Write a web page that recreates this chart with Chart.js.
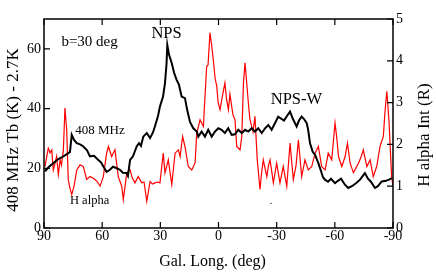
<!DOCTYPE html>
<html>
<head>
<meta charset="utf-8">
<script src="https://cdn.jsdelivr.net/npm/chart.js@4"></script>
<style>
  html, body { margin: 0; padding: 0; background: #fff; }
  #wrap { width: 436px; height: 273px; }
</style>
</head>
<body>
<div id="wrap"><canvas id="chart" width="436" height="273"></canvas></div>
<script>
// 408 MHz brightness temperature (K), left axis
const tLong = [89.5, 87.4, 85.2, 82.8, 80.0, 77.6, 76.6, 75.7, 74.5, 73.1, 71.4, 69.7, 67.8, 66.3, 64.2, 62.0, 60.6, 59.4, 57.7, 56.0,
  54.4, 52.5, 50.8, 49.3, 47.3, 46.7, 45.6, 44.1, 42.2, 41.0, 40.0, 38.8, 37.0, 35.3, 33.8, 32.8, 31.2, 30.2, 28.6, 27.6,
  26.8, 26.4, 25.5, 24.1, 22.9, 21.6, 20.4, 19.0, 17.3, 16.3,
  14.7, 13.0, 11.2, 10.4, 8.7, 7.0, 5.3, 3.5, 1.8, 0.1, -1.6, -3.3, -5.0, -6.8, -8.5, -10.2, -12.0, -13.7, -15.4, -17.1,
  -18.8, -20.5, -22.3, -24.0, -25.7, -27.4, -29.1, -30.8,
  -33.8, -35.3, -36.9, -38.4, -40.3, -41.5,
  -42.9, -44.1, -45.5, -46.2, -47.2, -48.6, -49.8, -51.5, -52.9, -53.9, -54.9, -56.5, -58.0, -60.1, -61.6, -63.2, -65.2, -66.9, -68.8, -70.9,
  -73.0, -75.5, -77.1, -78.6, -80.7, -82.2, -84.2, -86.4, -87.9, -89.5];
const tVal = [19, 20.5, 21.7, 23, 24, 25, 25.5, 31.2, 29.5, 28.4, 28, 27.3, 26, 24, 24.2, 22.8, 22, 20.6, 18.8, 19.5,
  20.5, 20, 19.5, 18.5, 18.4, 17.5, 22.8, 24, 27.3, 28.4, 27.5, 30.6, 31.8, 30.1, 32, 34, 37.5, 40.7, 44, 48.5,
  55, 61.3, 58, 55.2, 52, 49.6, 48, 44, 43.5, 40,
  35.5, 33.4, 32.3, 30.6, 32.3, 30.6, 32.9, 30.6, 32.3, 33.4, 32.9, 31.8, 33.4, 31.2, 31.4, 32.9, 31.8, 32.9, 32.3, 33.4,
  32.3, 33.4, 31.8, 33.4, 34.5, 32.9, 35.1, 37.3,
  36, 37.5, 39, 36.5, 34, 36,
  37.3, 36.5, 35.1, 33, 28.4, 25.5, 24.5, 21.7, 19, 17, 16.2, 15.5, 16.5, 15, 15.8, 16.5, 14.5, 13.4, 14, 15,
  16.2, 18.4, 16.5, 15.5, 13.4, 14, 15.6, 15.8, 16.2, 16.7];

// H alpha intensity (R), right axis
const hLong = [89.5, 87.8, 86.9, 86.0, 85.2, 84.3, 83.5, 82.6, 81.7, 81.0, 80.0, 79.2, 78.3, 77.5, 76.6, 75.7, 74.5, 73.1, 71.4, 69.7,
  68.0, 66.3, 65.0, 63.7, 62.4, 61.1, 59.4, 57.7, 56.8, 55.1, 54.2, 53.4, 51.7, 49.9, 49.1, 47.3, 45.6, 44.5, 43.1, 41.4,
  39.6, 38.4, 37.0, 35.3, 34.0, 32.8, 31.5, 30.2, 28.5, 27.6, 25.9, 24.1, 22.4, 20.7, 19.8, 18.5, 17.3, 15.6, 13.8, 12.1,
  11.2, 9.5, 7.8, 6.9, 6.1, 5.4, 4.4, 3.6, 2.7, 1.8, 0.9, 0.2, -0.8, -1.8, -3.3, -4.1, -5.1, -5.9, -6.8, -7.5,
  -8.5, -9.4, -11.1, -12.0, -12.9, -13.7, -14.5, -15.4, -16.2, -17.1, -17.8, -18.8, -20.0, -21.4, -22.2, -23.1, -24.9, -25.8, -26.6, -28.3,
  -30.0, -31.7, -33.4, -35.2, -36.9, -38.6, -40.0, -41.2, -42.9, -44.6, -46.3, -48.1, -49.8, -51.5, -53.2, -55.0, -56.6, -58.4, -59.3, -60.1,
  -60.9, -61.9, -63.6, -65.3, -66.5, -67.9, -69.6, -71.0, -72.2, -73.5, -74.7, -76.5, -78.2, -79.8, -81.6, -83.3, -85.0, -85.9, -86.8, -87.9,
  -88.7, -89.3, -90.0];
const hVal = [1.47, 1.91, 1.8, 1.87, 1.39, 1.55, 1.71, 1.28, 1.63, 1.5, 1.87, 2.87, 2.35, 1.16, 0.95, 0.8, 1.0, 1.39, 1.51, 1.47,
  1.16, 1.23, 1.2, 1.16, 1.1, 1.0, 1.23, 1.79, 1.95, 1.71, 1.8, 1.87, 1.23, 1.0, 0.68, 1.32, 1.39, 1.2, 1.08, 1.23,
  1.08, 1.1, 0.64, 1.11, 1.05, 1.08, 1.1, 1.08, 1.79, 1.32, 1.63, 1.04, 1.79, 1.87, 1.71, 2.19, 1.95, 1.47, 1.39, 1.55,
  2.27, 2.59, 2.43, 3.2, 3.87, 3.9, 4.67, 4.4, 4.03, 3.6, 3.39, 3.0, 2.83, 3.1, 3.47, 3.1, 2.83, 3.2, 2.91, 2.7,
  2.59, 1.95, 1.87, 2.19, 3.5, 3.95, 3.5, 2.99, 2.6, 2.43, 2.3, 2.67, 1.63, 0.92, 1.3, 1.63, 1.23, 1.5, 1.63, 1.08,
  1.55, 1.08, 1.47, 1.0, 2.03, 1.16, 1.5, 2.11, 1.23, 1.63, 1.39, 1.47, 1.79, 1.95, 1.47, 1.39, 1.79, 1.63, 2.1, 2.51,
  2.2, 1.71, 1.47, 1.71, 2.03, 1.55, 1.32, 1.45, 1.55, 1.7, 1.87, 1.47, 1.63, 1.23, 1.47, 1.95, 2.19, 2.8, 3.27, 2.59,
  1.8, 1.23, 1.0];

const xTicks = [90, 60, 30, 0, -30, -60, -90];
const leftTicks = [0, 20, 40, 60];
const rightTicks = [0, 1, 2, 3, 4, 5];

const serif = '"Liberation Serif", "DejaVu Serif", serif';

const frame = {
  id: 'frame',
  afterDraw(chart) {
    const ctx = chart.ctx;
    const a = chart.chartArea;
    const sx = chart.scales.x, sl = chart.scales.yT, sr = chart.scales.yH;
    ctx.save();
    ctx.strokeStyle = '#000';
    ctx.lineWidth = 1.5;
    ctx.strokeRect(a.left, a.top, a.right - a.left, a.bottom - a.top);

    // inward ticks
    ctx.lineWidth = 1.2;
    ctx.beginPath();
    xTicks.forEach(v => {
      const px = sx.getPixelForValue(v);
      ctx.moveTo(px, a.bottom); ctx.lineTo(px, a.bottom - 6);
      ctx.moveTo(px, a.top); ctx.lineTo(px, a.top + 6);
    });
    leftTicks.forEach(v => {
      const py = sl.getPixelForValue(v);
      ctx.moveTo(a.left, py); ctx.lineTo(a.left + 6, py);
    });
    rightTicks.forEach(v => {
      const py = sr.getPixelForValue(v);
      ctx.moveTo(a.right, py); ctx.lineTo(a.right - 6, py);
    });
    ctx.stroke();

    // tick labels
    ctx.fillStyle = '#000';
    ctx.font = '14px ' + serif;
    ctx.textBaseline = 'top';
    ctx.textAlign = 'center';
    xTicks.forEach(v => ctx.fillText(String(v), sx.getPixelForValue(v), a.bottom + 1));
    ctx.textBaseline = 'middle';
    ctx.textAlign = 'right';
    leftTicks.forEach(v => ctx.fillText(String(v), a.left - 3, sl.getPixelForValue(v)));
    ctx.textAlign = 'left';
    rightTicks.forEach(v => ctx.fillText(String(v), a.right + 3, sr.getPixelForValue(v)));

    // axis titles
    ctx.font = '16px ' + serif;
    ctx.textAlign = 'center';
    ctx.fillText('Gal. Long. (deg)', (a.left + a.right) / 2 - 6, 262);
    ctx.save();
    ctx.translate(14, 130);
    ctx.rotate(-Math.PI / 2);
    ctx.font = '17px ' + serif;
    ctx.fillText('408 MHz Tb (K) - 2.7K', 0, 0);
    ctx.restore();
    ctx.save();
    ctx.translate(425, 135);
    ctx.rotate(-Math.PI / 2);
    ctx.font = '17px ' + serif;
    ctx.fillText('H alpha Int (R)', 0, 0);
    ctx.restore();

    // annotations
    const put = (txt, lon, t, size) => {
      ctx.font = size + 'px ' + serif;
      ctx.fillText(txt, sx.getPixelForValue(lon), sl.getPixelForValue(t));
    };
    put('b=30 deg', 66.5, 62.4, 15);
    put('NPS', 26.8, 65, 16.5);
    put('NPS-W', -40.2, 42.9, 16.5);
    put('408 MHz', 61.1, 32.6, 13);
    put('H alpha', 66.5, 9.1, 12.5);
    put('.', -27.1, 9, 10);
    ctx.restore();
  }
};

new Chart(document.getElementById('chart'), {
  type: 'scatter',
  data: {
    datasets: [
      {
        label: '408 MHz',
        data: tLong.map((l, i) => ({ x: l, y: tVal[i] })),
        showLine: true,
        borderColor: '#000',
        borderWidth: 2,
        pointRadius: 0,
        yAxisID: 'yT',
        order: 0
      },
      {
        label: 'H alpha',
        data: hLong.map((l, i) => ({ x: l, y: hVal[i] })),
        showLine: true,
        borderColor: '#ff0000',
        borderWidth: 1.2,
        pointRadius: 0,
        yAxisID: 'yH',
        order: 1
      }
    ]
  },
  options: {
    responsive: false,
    animation: false,
    layout: { padding: { left: 44, right: 43, top: 19, bottom: 45 } },
    scales: {
      x: { type: 'linear', min: -90, max: 90, reverse: true, display: false },
      yT: { min: 0, max: 70, display: false, position: 'left' },
      yH: { min: 0, max: 5, display: false, position: 'right' }
    },
    plugins: {
      legend: { display: false },
      tooltip: { enabled: false }
    }
  },
  plugins: [frame]
});
</script>
</body>
</html>
